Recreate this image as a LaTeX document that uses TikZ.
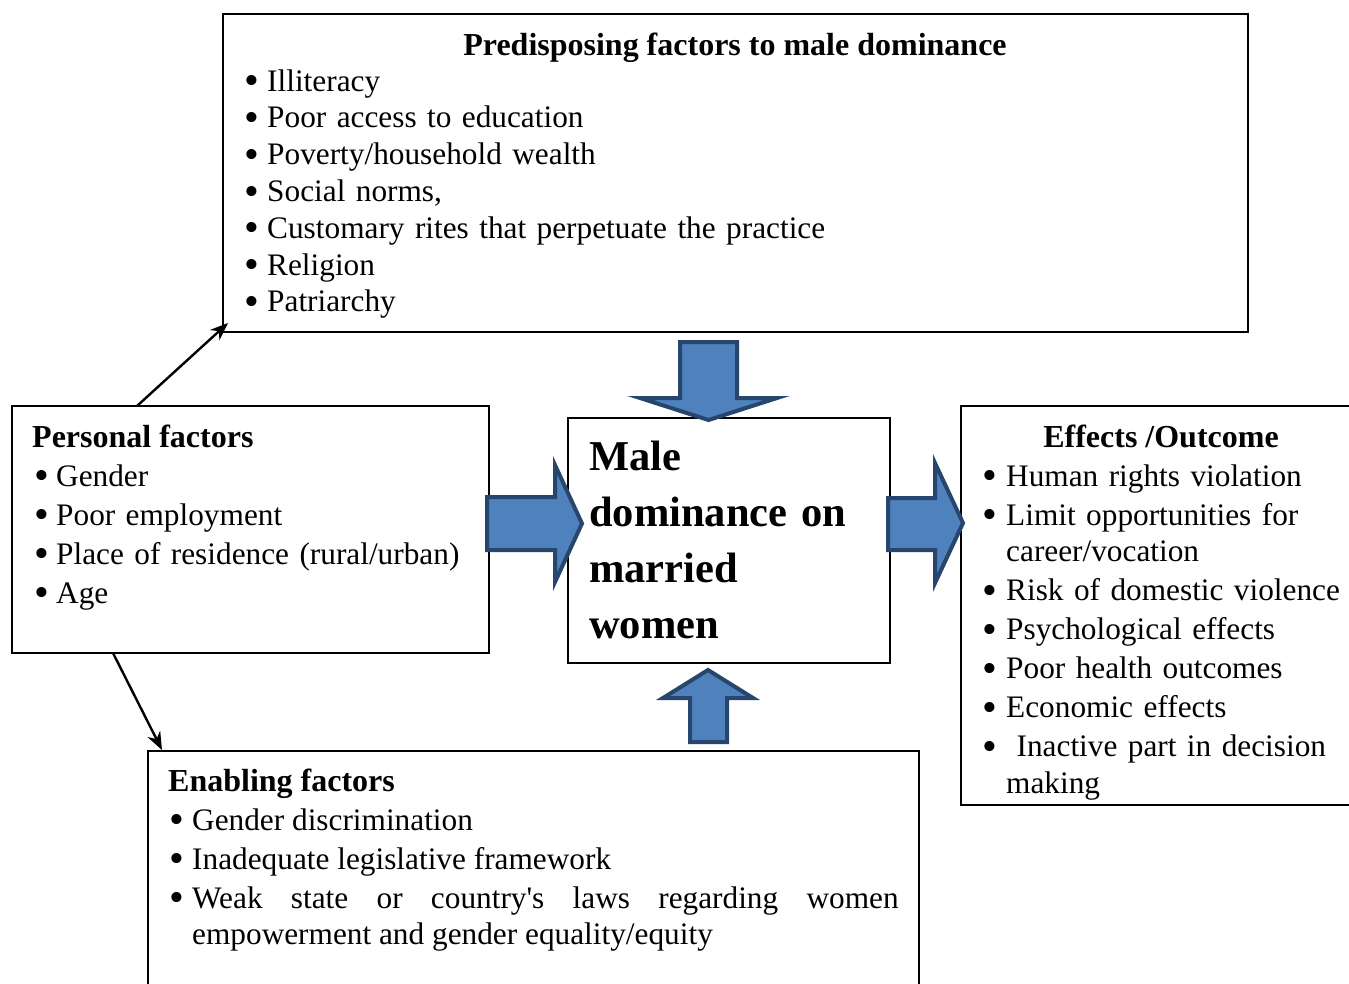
\documentclass[tikz,border=0pt]{standalone}
\usepackage{fontspec}
\setmainfont{Liberation Serif}
\usetikzlibrary{arrows.meta}
\definecolor{arrowfill}{HTML}{4F81BD}
\definecolor{arrowline}{HTML}{27466D}
\newlength\bw
\setlength\bw{22.5pt}
\hyphenpenalty=10000
\exhyphenpenalty=10000
\newcommand\bul{\smash{\raisebox{-0.12em}{\scalebox{1.35}{\textbullet}}}}
\newcommand\itmz[1]{\hangindent=\bw\hangafter=1\noindent\makebox[\bw][l]{\bul}#1}
\newcommand\itm[1]{\par\itmz{#1}}
\begin{document}
\begin{tikzpicture}[x=1pt,y=-1pt,
  box/.style={draw, line width=1.5pt, rectangle, inner sep=0, outer sep=0},
  body/.style={anchor=base west, inner sep=0, font=\fontsize{31.3}{36.5}\selectfont},
  ttl/.style={inner sep=0, font=\fontsize{32}{36.5}\selectfont\bfseries},
  big/.style={anchor=base west, inner sep=0, align=left, font=\fontsize{42.5}{56}\selectfont\bfseries},
  blockarrow/.style={fill=arrowfill, draw=arrowline, line width=4pt, line join=miter},
  thinarrow/.style={line width=2.4pt, -{Stealth[length=18pt,width=14pt]}}]
\useasboundingbox (0,0) rectangle (1349,983);
\clip (0,0) rectangle (1349,983);

% boxes
\node[box, minimum width=1025pt, minimum height=318pt] (top) at (735.5,173) {};
\node[box, minimum width=477pt, minimum height=247pt] (pers) at (250.5,529.5) {};
\node[box, minimum width=322pt, minimum height=245pt] (mid) at (729,540.5) {};
\node[box, minimum width=400pt, minimum height=399pt] (eff) at (1161,605.5) {};
\node[box, minimum width=771pt, minimum height=244pt] (enab) at (533.5,873) {};

% top box text
\node[ttl, anchor=base] (toptitle) at (735,55) {Predisposing factors to male dominance};
\node[body, text width=900pt] (toplist) at (244.5,91) {\raggedright\setlength\parskip{0.3pt}%
\itmz{Illiteracy}
\itm{Poor access to education}
\itm{Poverty/household wealth}
\itm{Social norms,}
\itm{Customary rites that perpetuate the practice}
\itm{Religion}
\itm{Patriarchy}\par};

% personal factors
\node[ttl, anchor=base west] (perstitle) at (32,447) {Personal factors};
\node[body, text width=440pt] (perslist) at (34.5,486) {\raggedright\setlength\parskip{2.5pt}\setlength\bw{21.5pt}%
\itmz{Gender}
\itm{Poor employment}
\itm{Place of residence (rural/urban)}
\itm{Age}\par};

% center
\node[big, text width=300pt] (midtext) at (589,470) {Male\\dominance on\\married\\women};

% effects
\node[ttl, anchor=base] (efftitle) at (1161,447) {Effects /Outcome};
\node[body, text width=380pt] (efflist) at (982.5,486) {\raggedright\setlength\parskip{2.5pt}\setlength\bw{23.5pt}%
\itmz{Human rights violation}
\itm{Limit opportunities for\newline career/vocation}
\itm{Risk of domestic violence}
\itm{Psychological effects}
\itm{Poor health outcomes}
\itm{Economic effects}
\itm{\ Inactive part in decision\newline making}\par};

% enabling
\node[ttl, anchor=base west] (enabtitle) at (168,791) {Enabling factors};
\node[body] (enablist) at (169.5,830) {\begin{minipage}[t]{729pt}
\tolerance=10000\setlength\parskip{2.5pt}\setlength\bw{22.5pt}%
\itmz{Gender discrimination}
\itm{Inadequate legislative framework}
\itm{Weak state or country\textquotesingle s laws regarding women\linebreak empowerment and gender equality/equity}\par
\end{minipage}};

% thin arrows
\coordinate (p1) at (137,406);
\coordinate (p2) at (113,653);
\draw[thinarrow] (p1) -- ([shift={(5,-9)}]top.south west);
\draw[thinarrow] (p2) -- ([shift={(14,-1)}]enab.north west);

% block arrows
\draw[blockarrow] (680,342) -- (737,342) -- (737,398) -- (777,398) -- (708.5,420) -- (640,398) -- (680,398) -- cycle;
\draw[blockarrow] (487,497) -- (555,497) -- (555,465) -- (582,523.5) -- (555,582) -- (555,550) -- (487,550) -- cycle;
\draw[blockarrow] (888,498) -- (935,498) -- (935,463) -- (963,523) -- (935,583) -- (935,550) -- (888,550) -- cycle;
\draw[blockarrow] (690,742) -- (690,698) -- (663,698) -- (708,670) -- (753,698) -- (727,698) -- (727,742) -- cycle;
\end{tikzpicture}
\end{document}
